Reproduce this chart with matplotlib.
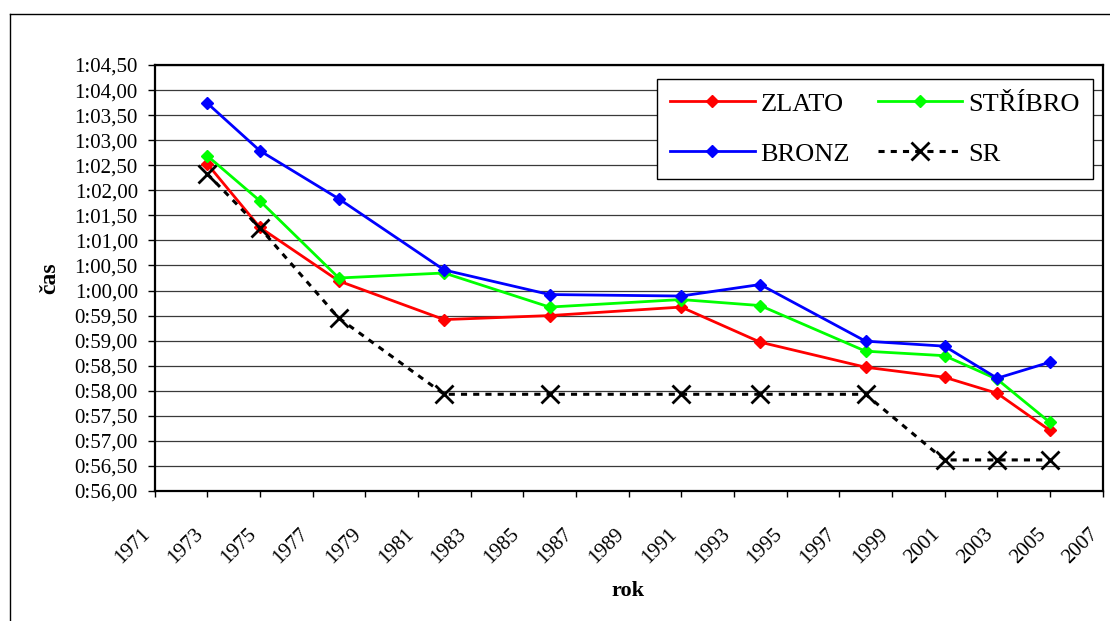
import matplotlib
matplotlib.use("Agg")
import matplotlib.pyplot as plt
from matplotlib.lines import Line2D
from matplotlib.ticker import FuncFormatter, MultipleLocator

plt.rcParams['font.family'] = ['Liberation Serif', 'DejaVu Serif']

# Olympic swimming results (seconds) by year
years = [1973, 1975, 1978, 1982, 1986, 1991, 1994, 1998, 2001, 2003, 2005]
zlato = [62.53, 61.26, 60.19, 59.42, 59.50, 59.67, 58.97, 58.47, 58.27, 57.95, 57.21]
stribro = [62.69, 61.79, 60.25, 60.35, 59.67, 59.82, 59.70, 58.79, 58.70, 58.23, 57.37]
bronz = [63.74, 62.79, 61.83, 60.41, 59.92, 59.89, 60.12, 58.99, 58.89, 58.25, 58.57]
sr = [62.33, 61.25, 59.45, 57.93, 57.93, 57.93, 57.93, 57.93, 56.62, 56.62, 56.62]

x_ticks = list(range(1971, 2008, 2))

W, H = 1110, 621
fig = plt.figure(figsize=(W / 100, H / 100), dpi=100)
ax = fig.add_axes([154.5 / W, 1 - 491 / H, (1102.5 - 154.5) / W, (491 - 65) / H])

# outer chart-area border
fig.add_artist(Line2D([9.5 / W, 9.5 / W], [0, 1 - 13.5 / H], transform=fig.transFigure,
                      color='black', lw=1.0))
fig.add_artist(Line2D([9.5 / W, 1], [1 - 13.5 / H, 1 - 13.5 / H], transform=fig.transFigure,
                      color='black', lw=1.0))

lw = 2.0
ms = 6.5
l_z, = ax.plot(years, zlato, color='#ff0000', lw=lw, marker='D', ms=ms, label='ZLATO', zorder=3)
l_s, = ax.plot(years, stribro, color='#00ff00', lw=lw, marker='D', ms=ms, label='STŘÍBRO', zorder=3)
l_b, = ax.plot(years, bronz, color='#0000ff', lw=lw, marker='D', ms=ms, label='BRONZ', zorder=3)
l_r, = ax.plot(years, sr, color='black', lw=2.2, dashes=[2.0, 2.0], marker='x', ms=13, mew=2.0,
               label='SR', zorder=4)

ax.set_xlim(1971, 2007)
ax.set_ylim(56.0, 64.5)
ax.set_xticks(x_ticks)
ax.set_xticklabels([str(t) for t in x_ticks], rotation=45, ha='right', va='top')
ax.yaxis.set_major_locator(MultipleLocator(0.5))


def fmt_time(v, pos):
    cs = int(round(v * 100))
    m = cs // 6000
    rest = cs - m * 6000
    s = rest // 100
    c = rest % 100
    return f"{m}:{s:02d},{c:02d}"


ax.yaxis.set_major_formatter(FuncFormatter(fmt_time))
ax.grid(axis='y', color='#3a3a3a', lw=0.9)
ax.set_axisbelow(True)

for sp in ax.spines.values():
    sp.set_linewidth(1.6)
    sp.set_color('black')

ax.tick_params(axis='y', direction='out', length=5, width=1, pad=7, labelsize=15)
ax.tick_params(axis='x', direction='out', length=4, width=1, pad=20, labelsize=15)

ax.set_xlabel('rok', fontsize=16, fontweight='bold', labelpad=10)
ax.set_ylabel('čas', fontsize=17, fontweight='bold', labelpad=10)

# row-wise legend order: ZLATO, STŘÍBRO / BRONZ, SR
handles = [l_z, l_b, l_s, l_r]
labels = [h.get_label() for h in handles]
leg = ax.legend(handles, labels, ncol=2, loc='upper right', bbox_to_anchor=(1093 / W, 1 - 79 / H),
                bbox_transform=fig.transFigure, fontsize=19, frameon=True, fancybox=False,
                edgecolor='black', framealpha=1, handlelength=3.2, handletextpad=0.23,
                columnspacing=1.05, labelspacing=1.0, borderpad=0.5, borderaxespad=0)
leg.get_frame().set_linewidth(1.0)
for h in leg.legend_handles[:3]:
    h.set_markersize(6)
leg.legend_handles[3].set_markersize(13)

fig.savefig('out.png', dpi=100)
